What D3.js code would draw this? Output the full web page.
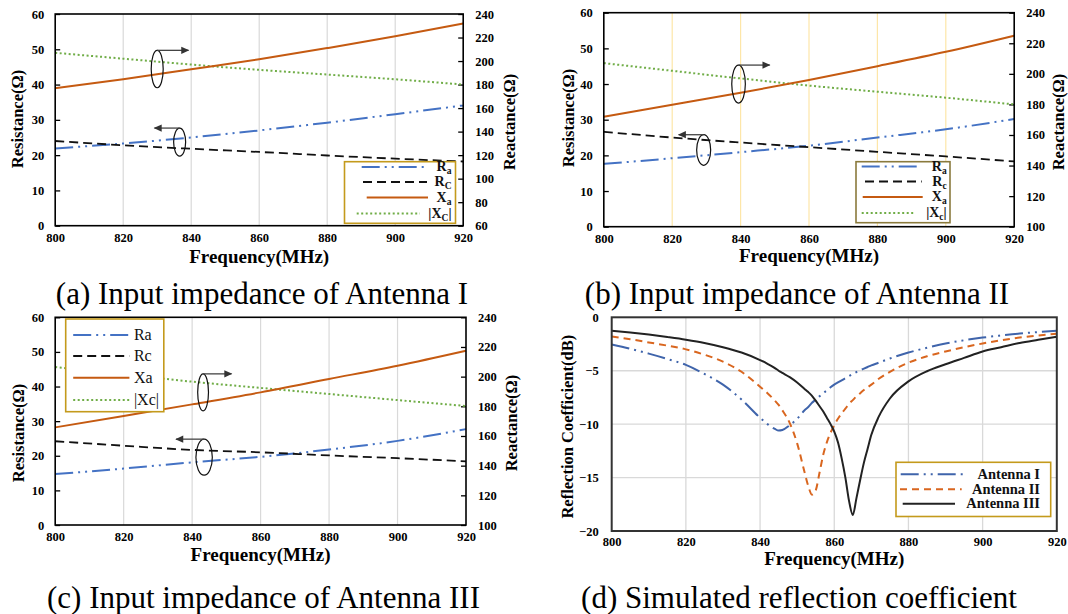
<!DOCTYPE html>
<html><head><meta charset="utf-8">
<script src="https://cdn.jsdelivr.net/npm/d3@7"></script>
<style>
body{margin:0;background:#fff}
svg{display:block}
text{font-family:"Liberation Serif","Times New Roman",serif}
</style>
</head><body>
<svg id="c" width="1068" height="614"></svg>
<script>
// ---------- DATA ----------
const freq = [800, 820, 840, 860, 880, 900, 920];
const xTicks = [800, 820, 840, 860, 880, 900, 920];
const resTicks = [0, 10, 20, 30, 40, 50, 60];
const reacTicksA = [60, 80, 100, 120, 140, 160, 180, 200, 220, 240];
const reacTicksBC = [100, 120, 140, 160, 180, 200, 220, 240];

// Antenna I
const raA = [21.9, 23.3, 25.0, 27.0, 29.2, 31.6, 34.1];
const rcA = [24.0, 22.8, 21.8, 20.9, 19.9, 19.0, 18.2];
const xaA = [177, 184.5, 193, 201.5, 211, 221, 232];
const xcA = [207, 202, 197, 192.5, 188.5, 184.5, 180];
// Antenna II
const raB = [17.6, 19.2, 20.9, 22.7, 25.0, 27.3, 30.2];
const rcB = [26.6, 25.0, 23.6, 22.3, 21.0, 19.7, 18.3];
const xaB = [172, 179.8, 187.6, 196, 205, 214.4, 225];
const xcB = [207, 202, 197, 192.3, 188.3, 184.4, 180];
// Antenna III
const raC = [14.7, 16.3, 18.1, 19.7, 21.8, 24.3, 27.7];
const rcC = [24.2, 22.9, 21.7, 21.0, 20.1, 19.3, 18.4];
const xaC = [165.8, 173.5, 181.3, 189.4, 198.4, 207.4, 217.5];
const xcC = [206.5, 201.6, 196.6, 192.4, 188.3, 184.2, 180.2];

// Reflection coefficient (dB)
const freqD = [800,805,810,815,820,825,830,835,840,842,844,845,846,848,850,852,853,854,855,856,857,858,859,860,861,862,863,864,865,866,867,868,869,870,872,875,880,885,890,895,900,905,910,915,920];
const s11I = [-2.55,-2.95,-3.4,-3.9,-4.45,-5.3,-6.3,-7.7,-9.4,-10.0,-10.45,-10.6,-10.55,-10.1,-9.5,-8.7,-8.4,-8.0,-7.7,-7.4,-7.1,-6.85,-6.55,-6.3,-6.1,-5.9,-5.7,-5.5,-5.3,-5.12,-4.95,-4.8,-4.65,-4.5,-4.25,-3.85,-3.3,-2.85,-2.45,-2.15,-1.9,-1.7,-1.52,-1.38,-1.25];
const s11II = [-1.8,-2.05,-2.35,-2.65,-3.0,-3.5,-4.15,-5.1,-6.5,-7.1,-7.8,-8.2,-8.7,-9.9,-11.8,-14.5,-15.8,-16.6,-16.2,-14.6,-12.9,-11.7,-10.8,-10.1,-9.5,-9.0,-8.55,-8.1,-7.75,-7.4,-7.1,-6.8,-6.55,-6.3,-5.75,-5.1,-4.25,-3.65,-3.2,-2.8,-2.45,-2.15,-1.9,-1.7,-1.53];
const s11III = [-1.25,-1.42,-1.62,-1.85,-2.1,-2.4,-2.8,-3.3,-4.0,-4.35,-4.75,-5.0,-5.2,-5.6,-6.1,-6.7,-7.0,-7.35,-7.8,-8.3,-8.8,-9.4,-10.0,-10.7,-11.7,-13.2,-15.0,-17.2,-18.5,-16.9,-15.2,-13.6,-12.3,-11.0,-9.3,-7.6,-6.0,-5.05,-4.4,-3.8,-3.2,-2.8,-2.4,-2.1,-1.81];
const dbTicks = [0, -5, -10, -15, -20];

const captions = ["(a) Input impedance of Antenna I", "(b) Input impedance of Antenna II",
                  "(c) Input impedance of Antenna III", "(d) Simulated reflection coefficient"];

// ---------- DRAWING ----------
const svg = d3.select("#c");
const defs = svg.append("defs");
defs.append("marker").attr("id", "ah").attr("viewBox", "0 0 10 10")
  .attr("refX", 9).attr("refY", 5).attr("markerWidth", 9).attr("markerHeight", 8)
  .attr("markerUnits", "userSpaceOnUse").attr("orient", "auto")
  .append("path").attr("d", "M0,0.5L10,5L0,9.5Z").attr("fill", "#333");

const FONT = '"Liberation Serif","Times New Roman",serif';
const STY = {
  ra: {stroke: "#4472c4", w: 2, dash: "18,5,2,5,2,5"},
  rc: {stroke: "#111", w: 1.8, dash: "9,5"},
  xa: {stroke: "#c55a11", w: 2, dash: null},
  xc: {stroke: "#70ad47", w: 2, dash: "2,2.5"}
};

function styleAxis(sel, size) {
  sel.select(".domain").remove();
  sel.selectAll("text").attr("font-family", FONT).attr("font-weight", "bold")
    .attr("font-size", size || 12.5).attr("fill", "#000");
  sel.selectAll(".tick line").attr("stroke", "#000").attr("stroke-width", 1.3);
}

function drawLabel(t, L) {
  if (L.plain) { t.text(L.plain); return; }
  if (L.pre) t.append("tspan").text(L.pre);
  t.append("tspan").attr("font-size", "0.68em").attr("dy", 3).text(L.sub);
  if (L.post) t.append("tspan").attr("dy", -3).text(L.post);
}

function impedancePanel(cfg) {
  const g = svg.append("g");
  const x = d3.scaleLinear().domain([800, 920]).range([cfg.x0, cfg.x1]);
  const yL = d3.scaleLinear().domain([0, 60]).range([cfg.y1, cfg.y0]);
  const yR = d3.scaleLinear().domain(cfg.rDomain).range([cfg.y1, cfg.y0]);

  g.append("g").selectAll("line").data(xTicks.slice(1, -1)).join("line")
    .attr("x1", d => x(d)).attr("x2", d => x(d)).attr("y1", cfg.y0).attr("y2", cfg.y1)
    .attr("stroke", cfg.grid).attr("stroke-width", 1.2);

  const aL = g.append("g").attr("transform", `translate(${cfg.x0},0)`)
    .call(d3.axisLeft(yL).tickValues(resTicks).tickSize(-5).tickPadding(11).tickFormat(d3.format("d")));
  styleAxis(aL);
  const aR = g.append("g").attr("transform", `translate(${cfg.x1},0)`)
    .call(d3.axisRight(yR).tickValues(cfg.rTicks).tickSize(-5).tickPadding(12).tickFormat(d3.format("d")));
  styleAxis(aR);
  const aB = g.append("g").attr("transform", `translate(0,${cfg.y1})`)
    .call(d3.axisBottom(x).tickValues(xTicks).tickSize(0).tickPadding(7).tickFormat(d3.format("d")));
  styleAxis(aB);

  const lineL = d3.line().x((d, i) => x(freq[i])).y(d => yL(d)).curve(d3.curveMonotoneX);
  const lineR = d3.line().x((d, i) => x(freq[i])).y(d => yR(d)).curve(d3.curveMonotoneX);
  const series = [
    {v: cfg.ra, s: STY.ra, f: lineL}, {v: cfg.rc, s: STY.rc, f: lineL},
    {v: cfg.xc, s: STY.xc, f: lineR}, {v: cfg.xa, s: STY.xa, f: lineR}
  ];
  series.forEach(sr => {
    g.append("path").attr("d", sr.f(sr.v)).attr("fill", "none")
      .attr("stroke", sr.s.stroke).attr("stroke-width", sr.s.w)
      .attr("stroke-dasharray", sr.s.dash);
  });

  g.append("rect").attr("x", cfg.x0).attr("y", cfg.y0)
    .attr("width", cfg.x1 - cfg.x0).attr("height", cfg.y1 - cfg.y0)
    .attr("fill", "none").attr("stroke", "#000").attr("stroke-width", 1.6);

  // annotations (ellipse + arrow)
  cfg.ann.forEach(a => {
    const sc = a.axis === "R" ? yR : yL;
    const cx = x(a.f), cy = sc(a.v);
    g.append("ellipse").attr("cx", cx).attr("cy", cy).attr("rx", a.rx).attr("ry", a.ry)
      .attr("fill", "none").attr("stroke", "#111").attr("stroke-width", 1.2);
    g.append("line").attr("x1", cx).attr("y1", cy - a.ry).attr("x2", x(a.to)).attr("y2", cy - a.ry)
      .attr("stroke", "#444").attr("stroke-width", 1.3).attr("marker-end", "url(#ah)");
  });

  // legend
  const L = cfg.legend;
  g.append("rect").attr("x", L.bx0).attr("y", L.by0).attr("width", L.bx1 - L.bx0).attr("height", L.by1 - L.by0)
    .attr("fill", "#fff").attr("stroke", L.border).attr("stroke-width", 1.6);
  const keys = ["ra", "rc", "xa", "xc"];
  keys.forEach((k, i) => {
    const it = L.items[i];
    g.append("line").attr("x1", it.lx0).attr("x2", it.lx1).attr("y1", L.rows[i]).attr("y2", L.rows[i])
      .attr("stroke", STY[k].stroke).attr("stroke-width", STY[k].w).attr("stroke-dasharray", STY[k].dash);
    const t = g.append("text").attr("x", L.tx).attr("y", L.rows[i]).attr("dy", "0.3em")
      .attr("text-anchor", L.anchor).attr("font-size", L.fs).attr("font-weight", L.fw).attr("fill", "#111");
    drawLabel(t, it.label);
  });

  // axis titles
  g.append("text").attr("x", (cfg.x0 + cfg.x1) / 2).attr("y", cfg.xtY).attr("text-anchor", "middle")
    .attr("font-size", 19).attr("font-weight", "bold").text("Frequency(MHz)");
  g.append("text").attr("transform", `translate(${cfg.ylX},${cfg.ylY}) rotate(-90)`).attr("dy", "0.35em")
    .attr("text-anchor", "middle").attr("font-size", 16.5).attr("font-weight", "bold").text("Resistance(Ω)");
  g.append("text").attr("transform", `translate(${cfg.yrX},${cfg.yrY}) rotate(-90)`).attr("dy", "0.35em")
    .attr("text-anchor", "middle").attr("font-size", 16.5).attr("font-weight", "bold").text("Reactance(Ω)");
}

const labSubA = [{pre: "R", sub: "a"}, {pre: "R", sub: "C"}, {pre: "X", sub: "a"}, {pre: "|X", sub: "C", post: "|"}];
const labSubB = [{pre: "R", sub: "a"}, {pre: "R", sub: "c"}, {pre: "X", sub: "a"}, {pre: "|X", sub: "c", post: "|"}];
const labPlain = [{plain: "Ra"}, {plain: "Rc"}, {plain: "Xa"}, {plain: "|Xc|"}];

impedancePanel({
  x0: 55.2, x1: 463.2, y0: 14, y1: 225.7, rDomain: [60, 240], rTicks: reacTicksA, grid: "#d9d9d9",
  ra: raA, rc: rcA, xa: xaA, xc: xcA,
  ann: [{f: 830, v: 193.2, axis: "R", rx: 6, ry: 18.7, to: 839.2},
        {f: 836.6, v: 23.7, axis: "L", rx: 6, ry: 14, to: 829.2}],
  legend: {bx0: 344.5, bx1: 455.5, by0: 161.7, by1: 223.3, border: "#c49a1c", tx: 451.5, anchor: "end", fs: 14, fw: "bold",
           rows: [167, 182, 197.5, 213.5],
           items: [{lx0: 361.7, lx1: 426, label: labSubA[0]}, {lx0: 363, lx1: 427, label: labSubA[1]},
                   {lx0: 366.7, lx1: 428, label: labSubA[2]}, {lx0: 356.7, lx1: 420, label: labSubA[3]}]},
  xtY: 263, ylX: 17, ylY: 119, yrX: 509, yrY: 122
});

impedancePanel({
  x0: 603.8, x1: 1014.2, y0: 12.7, y1: 226.7, rDomain: [100, 240], rTicks: reacTicksBC, grid: "#fde6a8",
  ra: raB, rc: rcB, xa: xaB, xc: xcB,
  ann: [{f: 839.4, v: 193.3, axis: "R", rx: 6.8, ry: 19, to: 848.5},
        {f: 829.2, v: 21.5, axis: "L", rx: 7, ry: 15.3, to: 821.9}],
  legend: {bx0: 856, bx1: 950, by0: 161.7, by1: 222.7, border: "#8a7a3c", tx: 946.7, anchor: "end", fs: 14, fw: "bold",
           rows: [166.5, 181.5, 197, 213],
           items: [{lx0: 861.7, lx1: 921.7, label: labSubB[0]}, {lx0: 865, lx1: 921.7, label: labSubB[1]},
                   {lx0: 862.7, lx1: 922.7, label: labSubB[2]}, {lx0: 861.7, lx1: 915, label: labSubB[3]}]},
  xtY: 262, ylX: 568, ylY: 118, yrX: 1058.5, yrY: 122
});

impedancePanel({
  x0: 55.2, x1: 466, y0: 317.3, y1: 525, rDomain: [100, 240], rTicks: reacTicksBC, grid: "#d9d9d9",
  ra: raC, rc: rcC, xa: xaC, xc: xcC,
  ann: [{f: 843.2, v: 189.4, axis: "R", rx: 5.4, ry: 18.5, to: 851.5},
        {f: 843.5, v: 19.6, axis: "L", rx: 8.2, ry: 18, to: 835.3}],
  legend: {bx0: 65.7, bx1: 163.8, by0: 319, by1: 411.7, border: "#c49a1c", tx: 133.9, anchor: "start", fs: 16, fw: "normal",
           rows: [335, 356, 377.7, 400],
           items: [{lx0: 73.2, lx1: 129.4, label: labPlain[0]}, {lx0: 73.2, lx1: 129.4, label: labPlain[1]},
                   {lx0: 73.2, lx1: 129.4, label: labPlain[2]}, {lx0: 73.2, lx1: 129.4, label: labPlain[3]}]},
  xtY: 561, ylX: 18, ylY: 433, yrX: 511, yrY: 423
});

// Panel (d)
(function () {
  const P = {x0: 611.7, x1: 1056.8, y0: 317.3, y1: 531};
  const g = svg.append("g");
  const x = d3.scaleLinear().domain([800, 920]).range([P.x0, P.x1]);
  const y = d3.scaleLinear().domain([-20, 0]).range([P.y1, P.y0]);
  g.append("g").selectAll("line").data(xTicks.slice(1, -1)).join("line")
    .attr("x1", d => x(d)).attr("x2", d => x(d)).attr("y1", P.y0).attr("y2", P.y1)
    .attr("stroke", "#d9d9d9").attr("stroke-width", 1.3);
  g.append("g").selectAll("line").data(dbTicks.slice(1, -1)).join("line")
    .attr("x1", P.x0).attr("x2", P.x1).attr("y1", d => y(d)).attr("y2", d => y(d))
    .attr("stroke", "#d9d9d9").attr("stroke-width", 1.3);
  const aL = g.append("g").attr("transform", `translate(${P.x0},0)`)
    .call(d3.axisLeft(y).tickValues(dbTicks).tickSize(0).tickPadding(13).tickFormat(d3.format("d")));
  styleAxis(aL);
  const aB = g.append("g").attr("transform", `translate(0,${P.y1})`)
    .call(d3.axisBottom(x).tickValues(xTicks).tickSize(0).tickPadding(6.5).tickFormat(d3.format("d")));
  styleAxis(aB);

  const line = d3.line().x((d, i) => x(freqD[i])).y(d => y(d)).curve(d3.curveMonotoneX);
  const S = [
    {v: s11I, stroke: "#3f64ab", w: 2, dash: "18,5,2,5,2,5", name: "Antenna I", lx0: 900.7, lx1: 967.3, ry: 474.3},
    {v: s11II, stroke: "#d9661f", w: 2, dash: "7,5", name: "Antenna II", lx0: 900, lx1: 961.7, ry: 489.3},
    {v: s11III, stroke: "#222", w: 2, dash: null, name: "Antenna III", lx0: 902.7, lx1: 955, ry: 503.8}
  ];
  S.forEach(s => g.append("path").attr("d", line(s.v)).attr("fill", "none")
    .attr("stroke", s.stroke).attr("stroke-width", s.w).attr("stroke-dasharray", s.dash));
  g.append("rect").attr("x", P.x0).attr("y", P.y0).attr("width", P.x1 - P.x0).attr("height", P.y1 - P.y0)
    .attr("fill", "none").attr("stroke", "#333").attr("stroke-width", 2);

  g.append("rect").attr("x", 896).attr("y", 462.3).attr("width", 154.7).attr("height", 54.2)
    .attr("fill", "#fff").attr("stroke", "#c49a1c").attr("stroke-width", 1.6);
  S.forEach(s => {
    g.append("line").attr("x1", s.lx0).attr("x2", s.lx1).attr("y1", s.ry).attr("y2", s.ry)
      .attr("stroke", s.stroke).attr("stroke-width", s.w).attr("stroke-dasharray", s.dash);
    g.append("text").attr("x", 1040).attr("y", s.ry).attr("dy", "0.3em").attr("text-anchor", "end")
      .attr("font-size", 14.5).attr("font-weight", "bold").attr("fill", "#111").text(s.name);
  });
  g.append("text").attr("x", (P.x0 + P.x1) / 2).attr("y", 565).attr("text-anchor", "middle")
    .attr("font-size", 19).attr("font-weight", "bold").text("Frequency(MHz)");
  g.append("text").attr("transform", `translate(567,426.7) rotate(-90)`).attr("dy", "0.35em")
    .attr("text-anchor", "middle").attr("font-size", 16.5).attr("font-weight", "bold").text("Reflection Coefficient(dB)");
})();

// captions
const capPos = [[262, 304], [797, 304], [263.5, 608], [799, 608]];
svg.append("g").selectAll("text").data(captions).join("text")
  .attr("x", (d, i) => capPos[i][0]).attr("y", (d, i) => capPos[i][1])
  .attr("text-anchor", "middle").attr("font-size", 31).attr("fill", "#000").text(d => d);
</script>
</body></html>
